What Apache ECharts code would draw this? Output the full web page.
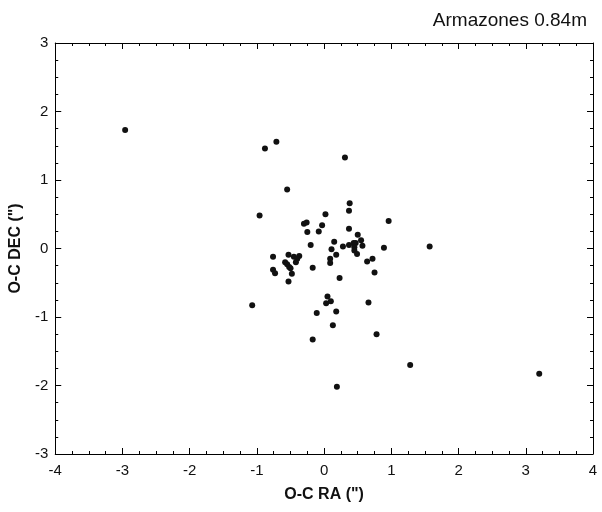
<!DOCTYPE html>
<html>
<head>
<meta charset="utf-8">
<script src="https://cdn.jsdelivr.net/npm/echarts@6/dist/echarts.min.js"></script>
<style>html,body{margin:0;padding:0;background:#fff}#c{width:602px;height:512px}</style>
</head>
<body>
<div id="c"></div>
<script>
var titleText = 'Armazones 0.84m';
var xName = 'O-C RA (")';
var yName = 'O-C DEC (")';
var raOC = [-2.96, -0.71, -0.88, 0.31, -0.55, -0.96, 0.38, 0.37, 0.96, 0.02, -0.30, -0.26, -0.03, -0.25, -0.08,
  0.37, 0.50, 0.15, -0.20, 0.11, 0.28, 0.37, 0.44, 0.47, 0.45, 0.45, 0.49, 0.55, 0.57, 0.89, 1.57,
  0.18, 0.09, 0.09, 0.64, 0.72, 0.75, 0.23, -0.17, -0.76, -0.53, -0.58, -0.55, -0.52, -0.50, -0.45,
  -0.42, -0.37, -0.40, -0.76, -0.73, -0.48, -0.53, -1.07, 0.05, 0.03, 0.10, -0.11, 0.18, 0.13,
  0.66, -0.17, 0.78, 1.28, 0.19, 3.20];
var decOC = [1.73, 1.56, 1.46, 1.33, 0.86, 0.48, 0.66, 0.55, 0.40, 0.50, 0.36, 0.38, 0.34, 0.24, 0.25,
  0.29, 0.20, 0.10, 0.05, -0.01, 0.03, 0.05, 0.08, 0.08, 0.02, -0.03, -0.08, 0.12, 0.04, 0.01, 0.03,
  -0.09, -0.15, -0.21, -0.19, -0.15, -0.35, -0.43, -0.28, -0.12, -0.09, -0.20, -0.23, -0.27, -0.29, -0.12,
  -0.20, -0.11, -0.15, -0.31, -0.36, -0.37, -0.48, -0.83, -0.70, -0.80, -0.77, -0.94, -0.92, -1.12,
  -0.79, -1.33, -1.25, -1.70, -2.02, -1.83];
var xTicks = {min: -4, max: 4, step: 1};
var yTicks = {min: -3, max: 3, step: 1};

var pts = raOC.map(function (v, i) { return [v, decOC[i]]; });
var fontFam = '"Liberation Sans", Arial, sans-serif';
function axisBase(showLabel) {
  return {
    type: 'value',
    splitLine: {show: false},
    axisLine: {show: true, onZero: false, lineStyle: {color: '#000', width: 1}},
    axisTick: {show: true, inside: true, length: 6, lineStyle: {color: '#000'}},
    minorTick: {show: true, splitNumber: 4, length: 3, lineStyle: {color: '#000'}},
    axisLabel: {show: showLabel, color: '#111', fontSize: 15, fontFamily: fontFam}
  };
}
var xb = Object.assign(axisBase(true), {min: xTicks.min, max: xTicks.max, interval: xTicks.step, position: 'bottom',
  name: xName, nameLocation: 'middle', nameGap: 33,
  nameTextStyle: {fontSize: 16, fontWeight: 'bold', color: '#111', fontFamily: fontFam}});
xb.axisLabel.margin = 9;
var xt = Object.assign(axisBase(false), {min: xTicks.min, max: xTicks.max, interval: xTicks.step, position: 'top'});
var yl = Object.assign(axisBase(true), {min: yTicks.min, max: yTicks.max, interval: yTicks.step, position: 'left',
  name: yName, nameLocation: 'middle', nameGap: 30,
  nameTextStyle: {fontSize: 16, fontWeight: 'bold', color: '#111', fontFamily: fontFam}});
yl.axisLabel.margin = 7;
var yr = Object.assign(axisBase(false), {min: yTicks.min, max: yTicks.max, interval: yTicks.step, position: 'right'});

var chart = echarts.init(document.getElementById('c'), null, {renderer: 'canvas'});
chart.setOption({
  backgroundColor: '#fff',
  animation: false,
  title: {text: titleText, right: 10, top: 6, textStyle: {fontSize: 19, fontWeight: 'normal', color: '#111', fontFamily: fontFam}},
  grid: {left: 50, right: 9, top: 43, bottom: 58, containLabel: false},
  xAxis: [xb, xt],
  yAxis: [yl, yr],
  series: [{
    type: 'scatter',
    xAxisIndex: 0, yAxisIndex: 0,
    data: pts,
    symbol: 'circle',
    symbolSize: 6,
    itemStyle: {color: '#111', opacity: 1}
  }]
});
</script>
</body>
</html>
